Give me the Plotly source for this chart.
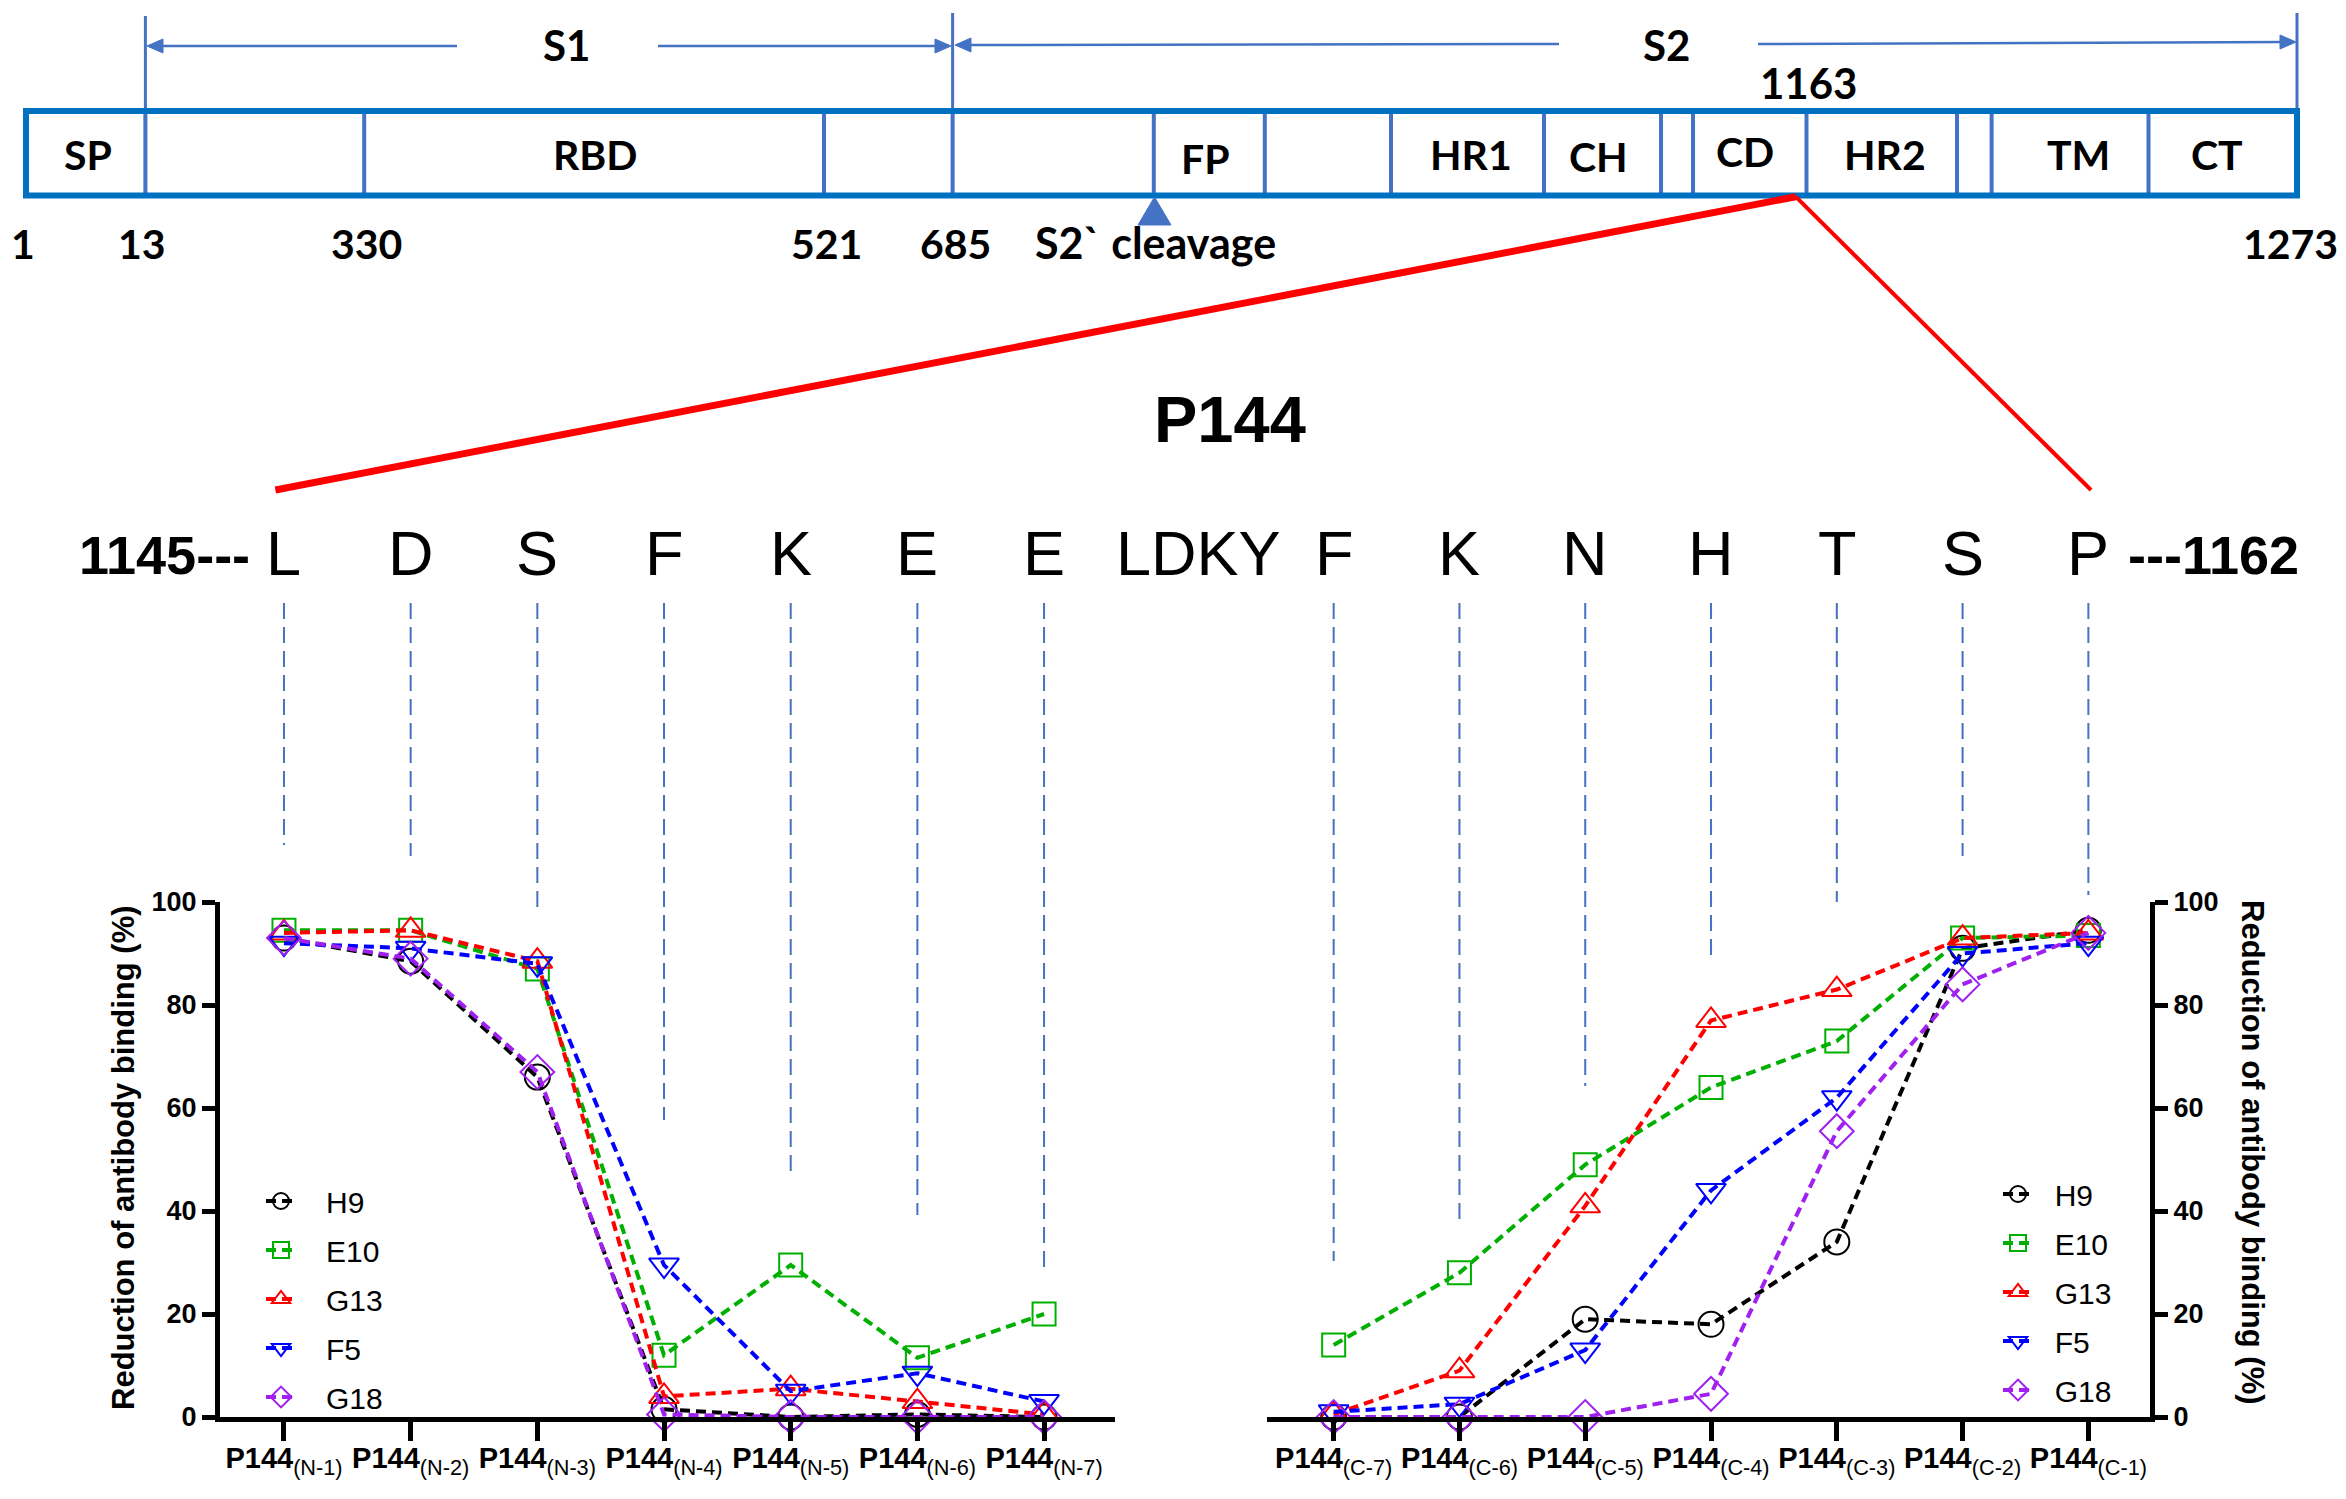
import plotly.graph_objects as go

W, H = 2346, 1499
ARIAL = "Liberation Sans, Arial, sans-serif"
CAL = "Lato, Carlito, sans-serif"

# ------------------------------------------------------------------ data
antibodies = ["H9", "E10", "G13", "F5", "G18"]
n_ticks = ["N-1", "N-2", "N-3", "N-4", "N-5", "N-6", "N-7"]
c_ticks = ["C-7", "C-6", "C-5", "C-4", "C-3", "C-2", "C-1"]

h9_n = [93, 88.5, 66, 1.5, 0, 0.5, 0]
e10_n = [94.5, 94.5, 87, 12, 29.5, 11.5, 20]
g13_n = [94, 94.5, 88.5, 4, 5.5, 3, 0.5]
f5_n = [92, 91, 88, 29.5, 5, 8.5, 3]
g18_n = [93, 89, 67, 0.5, 0, 0, 0]

h9_c = [0, 0, 19, 18, 34, 91, 94.5]
e10_c = [14, 28, 49, 64, 73, 93, 93.5]
g13_c = [0.5, 9, 41, 77, 83, 93, 94]
f5_c = [1, 2.5, 13, 44, 62, 90, 92]
g18_c = [0, 0, 0, 4.5, 55.5, 84, 94]

y_ticks = [0, 20, 40, 60, 80, 100]

seq_left = ["L", "D", "S", "F", "K", "E", "E"]
seq_mid = "LDKY"
seq_right = ["F", "K", "N", "H", "T", "S", "P"]
seq_start = "1145---"
seq_end = "---1162"
peptide_name = "P144"

domain_labels = ["SP", "RBD", "FP", "HR1", "CH", "CD", "HR2", "TM", "CT"]
residue_labels = ["1", "13", "330", "521", "685", "1273"]
epitope_label = "1163"
cleavage_label = "S2` cleavage"
subunit_labels = ["S1", "S2"]
y_title = "Reduction of antibody binding (%)"

# ------------------------------------------------------------------ styles / layout positions
colors = {"H9": "#000000", "E10": "#00B000", "G13": "#FF0000", "F5": "#0000FF", "G18": "#A020F0"}
symbols = {"H9": "circle-open", "E10": "square-open", "G13": "triangle-up-open",
           "F5": "triangle-down-open", "G18": "diamond-open"}
msize = {"H9": 25, "E10": 23, "G13": 26, "F5": 26, "G18": 26}

BLUE_BOX = "#0070C0"
BLUE = "#4472C4"

def px(x):
    return x / W

def py(y):
    return 1 - y / H

shapes = []
annotations = []

def seg(x0, y0, x1, y1, color, width, dash=None):
    shapes.append(dict(type="line", xref="paper", yref="paper", x0=px(x0), y0=py(y0),
                       x1=px(x1), y1=py(y1), line=dict(color=color, width=width, dash=dash)))

def poly(points, color):
    path = "M " + " L ".join(f"{px(x):.5f},{py(y):.5f}" for x, y in points) + " Z"
    shapes.append(dict(type="path", xref="paper", yref="paper", path=path,
                       fillcolor=color, line=dict(color=color, width=1)))

def text(x, y, s, size, family=ARIAL, bold=False, xanchor="center", xref="paper"):
    annotations.append(dict(xref=xref, yref="paper", x=(px(x) if xref == "paper" else x), y=py(y),
                            text=(f"<b>{s}</b>" if bold else s), showarrow=False,
                            xanchor=xanchor, yanchor="middle",
                            font=dict(family=family, size=size, color="black")))

# ---- schematic of spike protein
box_l, box_r, box_t, box_b = 26, 2297, 111, 195.5
inner_x = [145.4, 364.2, 824, 952.6, 1153.8, 1264.8, 1391, 1544, 1661, 1693,
           1806.5, 1957, 1991.6, 2148.5]
for xx in inner_x:
    seg(xx, box_t, xx, box_b, BLUE, 4)
for xx, top in [(145.4, 16), (952.6, 13), (2297, 13)]:
    seg(xx, top, xx, box_b if xx < 2290 else box_t, BLUE, 3)
shapes.append(dict(type="rect", xref="paper", yref="paper", x0=px(box_l), x1=px(box_r),
                   y0=py(box_b), y1=py(box_t), line=dict(color=BLUE_BOX, width=6)))

ay = 46
seg(149, ay, 457, ay, BLUE, 2.5)
seg(658, ay, 949, ay, BLUE, 2.5)
seg(958, 45, 1559, 44, BLUE, 2.5)
seg(1758, 44, 2292, 42, BLUE, 2.5)
poly([(147, ay), (163, ay - 7), (163, ay + 7)], BLUE)
poly([(951, ay), (935, ay - 7), (935, ay + 7)], BLUE)
poly([(955, 45), (971, 38), (971, 52)], BLUE)
poly([(2296, 42), (2280, 35), (2280, 49)], BLUE)
text(566, 45, subunit_labels[0], 42, CAL, True)
text(1666, 45, subunit_labels[1], 42, CAL, True)
text(1808, 83, epitope_label, 42, CAL, True)

dom_x = [88, 595, 1205, 1471, 1598, 1745, 1884.5, 2078, 2217]
dom_y = [154, 154, 158, 154, 157, 152, 154, 154, 154]
for lab, xx, yy in zip(domain_labels, dom_x, dom_y):
    text(xx, yy, lab, 41, CAL, True)

res_x = [23, 141.5, 366, 826, 955, 2290]
for lab, xx in zip(residue_labels, res_x):
    text(xx, 243, lab, 41, CAL, True)
text(1155, 242, cleavage_label, 43, CAL, True)
poly([(1154.5, 197), (1138, 225), (1171, 225)], BLUE)

seg(275.4, 490, 1795.7, 196.7, "#FF0000", 7)
seg(1795.7, 196.7, 2091, 490, "#FF0000", 4)

text(1230, 419, peptide_name, 65, ARIAL, True)

# ---- sequence row, aligned to chart categories
seq_y = 553
for i, aa in enumerate(seq_left):
    text(i, seq_y, aa, 63, ARIAL, False, xref="x")
for i, aa in enumerate(seq_right):
    text(i, seq_y, aa, 63, ARIAL, False, xref="x2")
text(1198.5, seq_y, seq_mid, 63, ARIAL, False)
text(252, 555, seq_start, 54, ARIAL, True, xanchor="right")
text(2126, 555, seq_end, 54, ARIAL, True, xanchor="left")

line_top = 603
left_ends = [845, 856, 908, 1120, 1172, 1215, 1269]
right_ends = [1261, 1219, 1086, 956, 902, 856, 895]
for i, ye in enumerate(left_ends):
    shapes.append(dict(type="line", xref="x", yref="paper", x0=i, x1=i, y0=py(line_top), y1=py(ye),
                       line=dict(color=BLUE, width=2, dash="16px,8px")))
for i, ye in enumerate(right_ends):
    shapes.append(dict(type="line", xref="x2", yref="paper", x0=i, x1=i, y0=py(line_top), y1=py(ye),
                       line=dict(color=BLUE, width=2, dash="16px,8px")))

annotations.append(dict(xref="paper", yref="paper", x=px(123), y=py(1158), text=f"<b>{y_title}</b>",
                        textangle=-90, showarrow=False, xanchor="center", yanchor="middle",
                        font=dict(family=ARIAL, size=31, color="black")))
annotations.append(dict(xref="paper", yref="paper", x=px(2253), y=py(1152), text=f"<b>{y_title}</b>",
                        textangle=90, showarrow=False, xanchor="center", yanchor="middle",
                        font=dict(family=ARIAL, size=31, color="black")))

# ------------------------------------------------------------------ traces
fig = go.Figure()
n_series = {"H9": h9_n, "E10": e10_n, "G13": g13_n, "F5": f5_n, "G18": g18_n}
c_series = {"H9": h9_c, "E10": e10_c, "G13": g13_c, "F5": f5_c, "G18": g18_c}
pad_l = "\u00a0\u00a0\u00a0"
pad_r = "\u00a0\u00a0"
for name in antibodies:
    fig.add_trace(go.Scatter(
        x=list(range(len(n_ticks))), y=n_series[name], xaxis="x", yaxis="y",
        mode="lines+markers", name=pad_l + name, legend="legend", legendgroup="L" + name,
        line=dict(color=colors[name], width=4, dash="10px,6px"),
        marker=dict(symbol=symbols[name], size=msize[name], color=colors[name],
                    line=dict(color=colors[name], width=2)),
        cliponaxis=False))
for name in antibodies:
    fig.add_trace(go.Scatter(
        x=list(range(len(c_ticks))), y=c_series[name], xaxis="x2", yaxis="y2",
        mode="lines+markers", name=pad_r + name, legend="legend2", legendgroup="R" + name,
        line=dict(color=colors[name], width=4, dash="10px,6px"),
        marker=dict(symbol=symbols[name], size=msize[name], color=colors[name],
                    line=dict(color=colors[name], width=2)),
        cliponaxis=False))

def tick_label(t):
    return f"<span style='font-size:29px'><b>P144</b></span><sub>({t})</sub>"

tick_font_x = dict(family=ARIAL, size=31, color="black")
tick_font_y = dict(family=ARIAL, size=27, color="black", weight="bold")
common_x = dict(showgrid=False, zeroline=False, showline=True, linecolor="black", linewidth=5,
                ticks="outside", ticklen=19, tickwidth=5, tickcolor="black", tickfont=tick_font_x,
                fixedrange=True, automargin=False, ticklabelstandoff=-10)
common_y = dict(showgrid=False, zeroline=False, showline=True, linecolor="black", linewidth=5,
                ticks="outside", ticklen=13, tickwidth=5, tickcolor="black", tickfont=tick_font_y,
                range=[0, 100], tickvals=y_ticks, fixedrange=True, automargin=False)

leg_font = dict(family=ARIAL, size=30, color="black")
fig.update_layout(
    width=W, height=H, margin=dict(l=0, r=0, t=0, b=0, autoexpand=False),
    paper_bgcolor="white", plot_bgcolor="white",
    xaxis=dict(domain=[px(220), px(1115)], anchor="y", range=[-0.505, 6.56],
               tickvals=list(range(7)), ticktext=[tick_label(t) for t in n_ticks], **common_x),
    yaxis=dict(domain=[py(1417), py(902)], anchor="x", side="left", **common_y),
    xaxis2=dict(domain=[px(1267), px(2150)], anchor="y2", range=[-0.53, 6.49],
                tickvals=list(range(7)), ticktext=[tick_label(t) for t in c_ticks], **common_x),
    yaxis2=dict(domain=[py(1417), py(902)], anchor="x2", side="right", **common_y),
    legend=dict(x=px(261), y=py(1175), xanchor="left", yanchor="top", bgcolor="rgba(0,0,0,0)",
                font=leg_font, tracegroupgap=7, traceorder="grouped"),
    legend2=dict(x=px(1998), y=py(1168), xanchor="left", yanchor="top", bgcolor="rgba(0,0,0,0)",
                 font=leg_font, tracegroupgap=7, traceorder="grouped"),
    shapes=shapes, annotations=annotations, showlegend=True,
)

fig.write_html("out.html", config={"displayModeBar": False},
               post_script="document.body.style.margin='0px';")
